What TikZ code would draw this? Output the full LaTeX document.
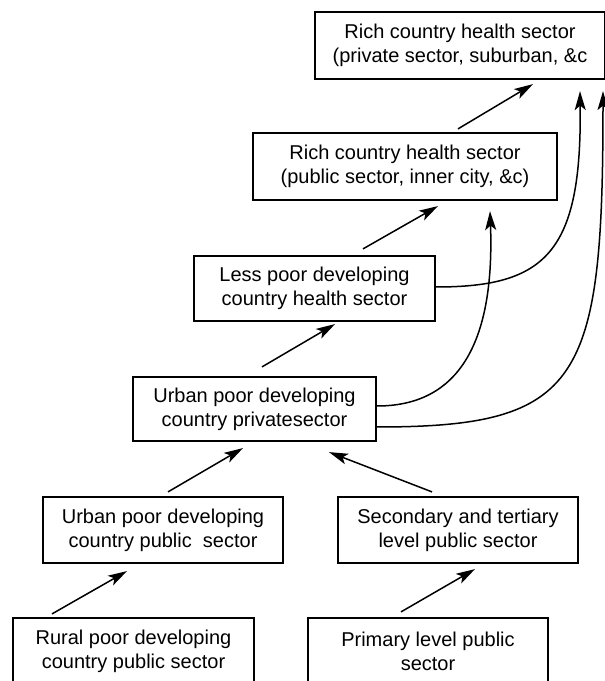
\documentclass[tikz,border=0pt]{standalone}
\usepackage{fontspec}
\setmainfont{Liberation Sans}
\usepackage{tikz}
\usetikzlibrary{arrows.meta,calc}

\begin{document}
\begin{tikzpicture}[
  x=1pt, y=1pt,
  every node/.style={font=\fontsize{20}{24.3}\selectfont},
  box/.style={draw, line width=2.2pt, inner sep=0pt, align=center,
              minimum width=#1, minimum height=66pt},
  arr/.style={line width=1.5pt, -{Stealth[length=19pt,width=11pt,inset=4.5pt]}},
]
\useasboundingbox (0,0) rectangle (605,681);
\node[box=290pt, minimum height=67pt] (rpriv) at (460,635.5)
  {Rich country health sector\\(private sector, suburban, \&c};
\node[box=304pt, minimum height=67pt] (rpub) at (405,514.5)
  {Rich country health sector\\(public sector, inner city, \&c)};
\node[box=241pt, minimum height=65pt] (lesspoor) at (314.5,392.5)
  {Less poor developing\\country health sector};
\node[box=243pt, minimum height=64pt] (urbpriv) at (254.5,272)
  {Urban poor developing\\country privatesector};
\node[box=240pt] (urbpub) at (163,151)
  {Urban poor developing\\country public~ sector};
\node[box=240pt] (second) at (458,151)
  {Secondary and tertiary\\level public sector};
\node[box=241pt, minimum height=67pt] (rural) at (133.5,29.5)
  {Rural poor developing\\country public sector};
\node[box=240pt, minimum height=67pt] (primary) at (428,29.5)
  {Primary level public\\sector};
\draw[arr] ([shift={(-81.5,3)}]rural.north) -- ([shift={(-36,-7)}]urbpub.south);
\draw[arr] ([shift={(-27,5)}]primary.north) -- ([shift={(17,-5)}]second.south);
\draw[arr] ([shift={(5,4)}]urbpub.north) -- ([shift={(-11.5,-6)}]urbpriv.south);
\draw[arr] ([shift={(-26,4)}]second.north) -- ([shift={(74.5,-10)}]urbpriv.south);
\draw[arr] ([shift={(7.5,9)}]urbpriv.north) -- ([shift={(20.5,-2)}]lesspoor.south);
\draw[arr] ([shift={(48.5,6)}]lesspoor.north) -- ([shift={(33,-5)}]rpub.south);
\draw[arr] ([shift={(53,3)}]rpub.north) -- ([shift={(73,-4)}]rpriv.south);
\draw[arr] ([yshift=3pt]urbpriv.east) .. controls +(94,0) and +(4,-111) .. ([shift={(85,-10)}]rpub.south);
\draw[arr] ([yshift=1.5pt]lesspoor.east) .. controls +(110,0) and +(2,-161) .. ([shift={(120,-11)}]rpriv.south);
\draw[arr] ([yshift=-18pt]urbpriv.east) .. controls +(204,0) and +(0,-291) .. ([shift={(143,-11)}]rpriv.south);
\end{tikzpicture}
\end{document}
